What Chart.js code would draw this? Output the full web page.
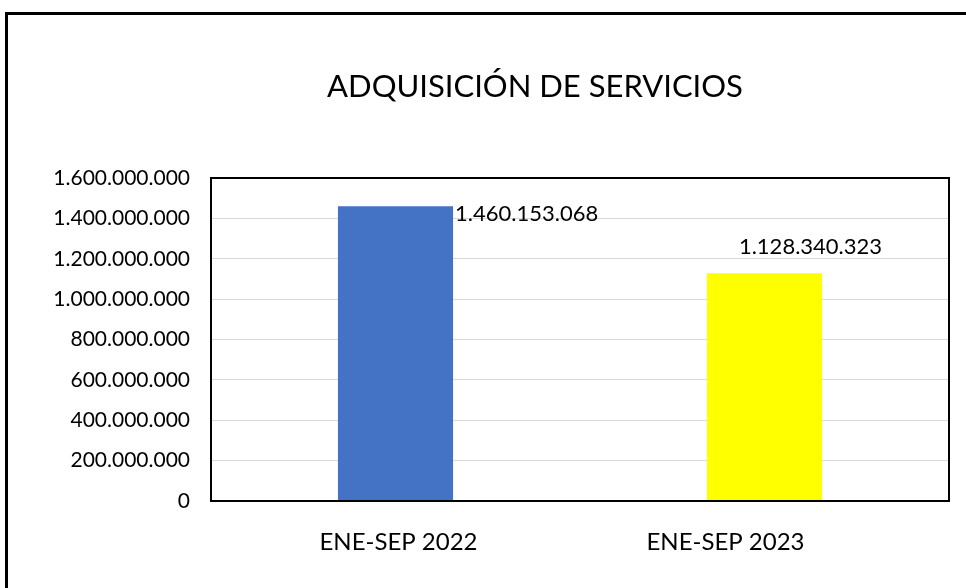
<!DOCTYPE html>
<html>
<head>
<meta charset="utf-8">
<script src="https://cdn.jsdelivr.net/npm/chart.js@4.4.0/dist/chart.umd.min.js"></script>
<style>
  html, body { margin: 0; padding: 0; background: #fff; overflow: hidden; }
  #wrap { position: absolute; left: 0; top: 0; width: 966px; height: 588px; }
</style>
</head>
<body>
<div id="wrap"><canvas id="barChart" width="966" height="588"></canvas></div>
<script>
const categories = ["ENE-SEP 2022", "ENE-SEP 2023"];
const values = [1460153068, 1128340323];
const barColors = ["#4472C4", "#FFFF00"];
const chartTitle = "ADQUISICIÓN DE SERVICIOS";
const yMax = 1600000000;
const yStep = 200000000;

const FONT = "Lato, 'Liberation Sans', sans-serif";

function fmt(n) {
  return String(Math.round(n)).replace(/\B(?=(\d{3})+(?!\d))/g, ".");
}

// frame, title, plot border, category labels and value labels
const decorations = {
  id: "decorations",
  afterDatasetsDraw(chart) {
    const ctx = chart.ctx;
    const area = chart.chartArea;
    ctx.save();
    ctx.strokeStyle = "#000";
    ctx.lineWidth = 2;
    ctx.strokeRect(area.left, area.top, area.right - area.left, area.bottom - area.top);

    const bars = chart.getDatasetMeta(0).data;
    ctx.fillStyle = "#000";
    ctx.font = "22px " + FONT;
    // first label sits to the right of the bar top, second above and offset
    const b0 = bars[0];
    ctx.textAlign = "left";
    ctx.textBaseline = "middle";
    ctx.fillText(fmt(values[0]), b0.x + b0.width / 2 + 2, b0.y + 8);
    const b1 = bars[1];
    ctx.textAlign = "center";
    ctx.textBaseline = "alphabetic";
    ctx.fillText(fmt(values[1]), b1.x + 46, b1.y - 19);

    // category labels (the second one is shifted left in the original)
    const xs = chart.scales.x;
    const shift = [3, -39];
    ctx.font = "24px " + FONT;
    ctx.textAlign = "center";
    ctx.textBaseline = "middle";
    categories.forEach((c, i) => {
      ctx.fillText(c, xs.getPixelForValue(i) + shift[i], 542);
    });
    ctx.restore();
  },
  afterDraw(chart) {
    const ctx = chart.ctx;
    ctx.save();
    ctx.strokeStyle = "#000";
    ctx.lineWidth = 3;
    ctx.strokeRect(6.5, 13.5, 1100, 700);
    ctx.fillStyle = "#000";
    ctx.font = "31px " + FONT;
    ctx.textAlign = "center";
    ctx.textBaseline = "middle";
    ctx.fillText(chartTitle, 535, 87);
    ctx.restore();
  }
};

new Chart(document.getElementById("barChart").getContext("2d"), {
  type: "bar",
  data: {
    labels: categories,
    datasets: [{
      data: values,
      backgroundColor: barColors,
      borderWidth: 0,
      categoryPercentage: 1,
      barPercentage: 0.312
    }]
  },
  options: {
    responsive: false,
    animation: false,
    events: [],
    layout: { padding: { left: 0, top: 178, right: 17, bottom: 0 } },
    plugins: {
      legend: { display: false },
      tooltip: { enabled: false },
      title: { display: false }
    },
    scales: {
      x: {
        grid: { display: false, drawTicks: false },
        border: { display: false },
        ticks: { display: false },
        afterFit(scale) { scale.height = 87; }
      },
      y: {
        min: 0,
        max: yMax,
        grid: { color: "#d9d9d9", lineWidth: 1, drawTicks: false },
        border: { display: false },
        ticks: {
          stepSize: yStep,
          color: "#000",
          font: { family: FONT, size: 21 },
          padding: 21,
          callback: (v) => fmt(v)
        },
        afterFit(scale) { scale.width = 211; }
      }
    }
  },
  plugins: [decorations]
});
</script>
</body>
</html>
